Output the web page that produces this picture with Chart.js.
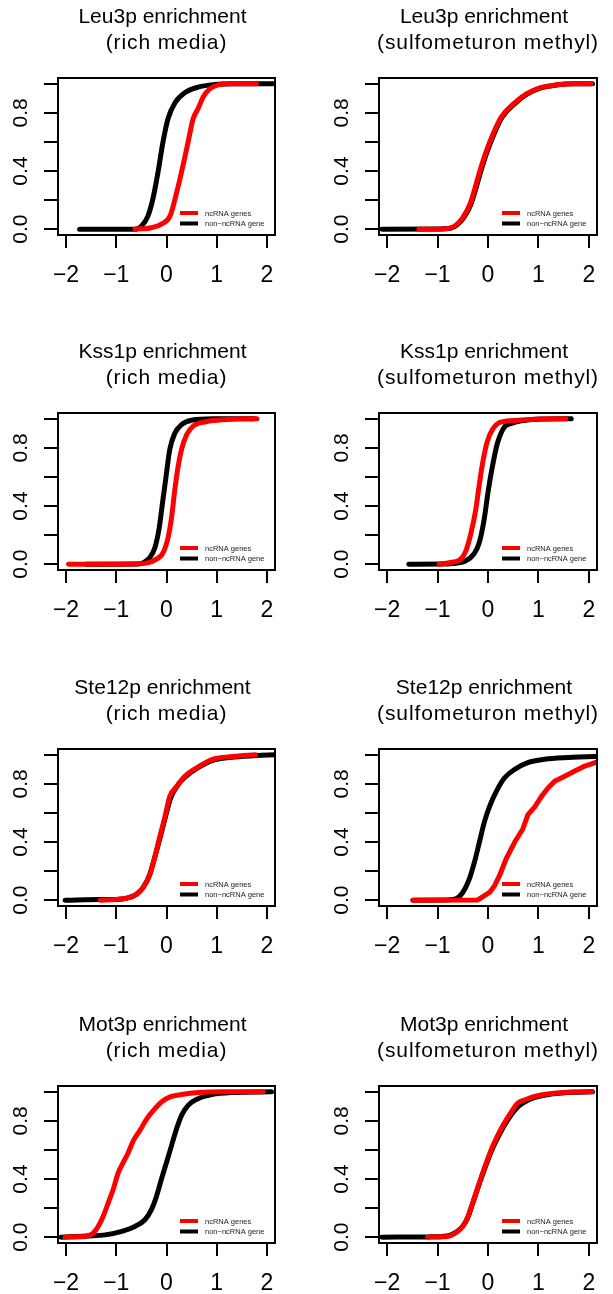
<!DOCTYPE html>
<html>
<head>
<meta charset="utf-8">
<script src="https://cdn.jsdelivr.net/npm/chart.js@4.4.1/dist/chart.umd.min.js"></script>
<style>
  html, body { margin: 0; padding: 0; background: #fff; }
  body { position: relative; width: 613px; height: 1294px; overflow: hidden; }
  canvas { position: absolute; }
</style>
</head>
<body>
<script>
// ECDF curves, [enrichment, cumulative fraction], ncRNA genes vs non-ncRNA genes
const leu3RichNc = [[-0.63, 0], [-0.3, 0.01], [-0.1, 0.035], [0.07, 0.09], [0.2, 0.25], [0.33, 0.44], [0.43, 0.6], [0.53, 0.76], [0.63, 0.83], [0.73, 0.91], [0.86, 0.965], [1.03, 0.993], [1.3, 1], [1.79, 1]];
const leu3RichNon = [[-1.73, 0], [-0.63, 0], [-0.5, 0.02], [-0.37, 0.09], [-0.27, 0.21], [-0.17, 0.39], [-0.07, 0.6], [0.03, 0.76], [0.17, 0.87], [0.37, 0.94], [0.63, 0.977], [0.96, 0.995], [1.3, 1], [2.12, 1]];

const leu3SulfoNc = [[-1.37, 0], [-0.9, 0.002], [-0.76, 0.007], [-0.63, 0.03], [-0.5, 0.08], [-0.36, 0.17], [-0.26, 0.28], [-0.17, 0.39], [-0.03, 0.54], [0.1, 0.655], [0.26, 0.77], [0.5, 0.86], [0.76, 0.93], [1.03, 0.972], [1.36, 0.993], [1.7, 1], [2.04, 1]];
const leu3SulfoNon = [[-2.1, 0], [-1.0, 0.002], [-0.74, 0.007], [-0.61, 0.03], [-0.48, 0.08], [-0.34, 0.17], [-0.24, 0.28], [-0.15, 0.39], [-0.01, 0.54], [0.12, 0.655], [0.28, 0.77], [0.52, 0.86], [0.78, 0.93], [1.05, 0.972], [1.38, 0.993], [1.72, 1], [2.07, 1]];

const kss1RichNc = [[-1.95, 0], [-0.6, 0.002], [-0.4, 0.007], [-0.2, 0.035], [-0.066, 0.08], [0.033, 0.185], [0.1, 0.32], [0.165, 0.51], [0.23, 0.67], [0.3, 0.79], [0.4, 0.89], [0.53, 0.95], [0.79, 0.98], [1.19, 0.995], [1.5, 1], [1.8, 1]];
const kss1RichNon = [[-1.6, 0], [-0.6, 0.002], [-0.46, 0.01], [-0.33, 0.046], [-0.23, 0.115], [-0.145, 0.25], [-0.08, 0.42], [-0.01, 0.6], [0.066, 0.79], [0.165, 0.9], [0.3, 0.96], [0.5, 0.99], [0.93, 1], [1.75, 1]];

const kss1SulfoNc = [[-0.97, 0], [-0.77, 0.01], [-0.54, 0.035], [-0.44, 0.09], [-0.34, 0.21], [-0.245, 0.37], [-0.18, 0.53], [-0.11, 0.69], [-0.013, 0.845], [0.086, 0.925], [0.25, 0.977], [0.61, 0.99], [1.01, 0.998], [1.54, 1]];
const kss1SulfoNon = [[-1.57, 0], [-0.9, 0.001], [-0.71, 0.005], [-0.44, 0.023], [-0.28, 0.07], [-0.18, 0.14], [-0.08, 0.3], [0.007, 0.51], [0.086, 0.67], [0.185, 0.83], [0.317, 0.94], [0.48, 0.97], [0.75, 0.99], [1.1, 0.998], [1.65, 1]];

const ste12RichNc = [[-1.32, 0], [-1.0, 0.005], [-0.79, 0.014], [-0.6, 0.04], [-0.46, 0.09], [-0.33, 0.18], [-0.23, 0.3], [-0.13, 0.44], [-0.03, 0.575], [0.066, 0.715], [0.2, 0.78], [0.36, 0.85], [0.6, 0.91], [0.93, 0.97], [1.32, 0.988], [1.77, 1]];
const ste12RichNon = [[-2.02, 0], [-1.3, 0.004], [-0.99, 0.005], [-0.79, 0.014], [-0.6, 0.04], [-0.46, 0.09], [-0.33, 0.18], [-0.23, 0.3], [-0.12, 0.44], [-0.02, 0.575], [0.08, 0.7], [0.22, 0.79], [0.38, 0.85], [0.62, 0.91], [0.95, 0.965], [1.35, 0.985], [1.8, 0.996], [2.15, 1]];

const ste12SulfoNc = [[-1.49, 0], [-0.2, 0.002], [0.03, 0.053], [0.13, 0.1], [0.23, 0.17], [0.36, 0.285], [0.53, 0.4], [0.69, 0.49], [0.79, 0.587], [0.93, 0.644], [1.06, 0.714], [1.19, 0.772], [1.32, 0.818], [1.52, 0.853], [1.72, 0.888], [1.92, 0.923], [2.12, 0.946], [2.4, 0.97]];
const ste12SulfoNon = [[-1.49, 0], [-0.9, 0.001], [-0.66, 0.007], [-0.5, 0.053], [-0.37, 0.146], [-0.27, 0.26], [-0.17, 0.4], [-0.07, 0.54], [0.03, 0.644], [0.165, 0.749], [0.33, 0.842], [0.53, 0.9], [0.79, 0.946], [1.12, 0.969], [1.59, 0.981], [2.12, 0.988], [2.4, 0.99]];

const mot3RichNc = [[-2.02, 0], [-1.56, 0.01], [-1.46, 0.028], [-1.36, 0.074], [-1.26, 0.144], [-1.16, 0.236], [-1.06, 0.33], [-0.96, 0.444], [-0.86, 0.514], [-0.76, 0.583], [-0.66, 0.664], [-0.53, 0.734], [-0.39, 0.815], [-0.23, 0.884], [-0.1, 0.93], [0.07, 0.965], [0.3, 0.981], [0.63, 0.995], [1.1, 1], [1.92, 1]];
const mot3RichNon = [[-2.1, 0], [-1.56, 0.008], [-1.22, 0.016], [-0.89, 0.04], [-0.63, 0.074], [-0.43, 0.12], [-0.3, 0.19], [-0.2, 0.28], [-0.1, 0.4], [0.0, 0.514], [0.1, 0.63], [0.2, 0.745], [0.3, 0.838], [0.43, 0.907], [0.63, 0.953], [0.9, 0.981], [1.3, 0.995], [2.09, 1]];

const mot3SulfoNc = [[-1.2, 0], [-0.9, 0.003], [-0.77, 0.007], [-0.64, 0.03], [-0.51, 0.07], [-0.41, 0.13], [-0.31, 0.23], [-0.18, 0.365], [-0.046, 0.5], [0.086, 0.62], [0.22, 0.72], [0.35, 0.8], [0.48, 0.87], [0.58, 0.92], [0.75, 0.947], [0.945, 0.97], [1.27, 0.988], [1.67, 0.998], [2.05, 1]];
const mot3SulfoNon = [[-2.1, 0], [-1.2, 0.002], [-0.9, 0.005], [-0.76, 0.012], [-0.63, 0.035], [-0.5, 0.075], [-0.4, 0.135], [-0.3, 0.235], [-0.17, 0.37], [-0.036, 0.5], [0.096, 0.615], [0.23, 0.71], [0.36, 0.79], [0.5, 0.86], [0.62, 0.905], [0.78, 0.94], [0.97, 0.965], [1.29, 0.986], [1.7, 0.997], [2.07, 1]];

const factors = ['Leu3p', 'Kss1p', 'Ste12p', 'Mot3p'];
const conditions = ['(rich media)', '(sulfometuron methyl)'];
const seriesLabels = ['ncRNA genes', 'non\u2212ncRNA gene'];
const xTicks = [-2, -1, 0, 1, 2];
const yTicks = [0, 0.2, 0.4, 0.6, 0.8, 1];
const yTickLabels = ['0.0', '', '0.4', '', '0.8', ''];

const ncCurves = [leu3RichNc, leu3SulfoNc, kss1RichNc, kss1SulfoNc, ste12RichNc, ste12SulfoNc, mot3RichNc, mot3SulfoNc];
const nonCurves = [leu3RichNon, leu3SulfoNon, kss1RichNon, kss1SulfoNon, ste12RichNon, ste12SulfoNon, mot3RichNon, mot3SulfoNon];

const FONT = '"Liberation Sans", Arial, Helvetica, sans-serif';
const RED = '#ff0000';
const BLACK = '#000000';
const ROW_TOP = [0, 335, 671, 1008];

// box, titles, axis labels and legend, drawn the way base R graphics lays them out
const rDecor = {
  id: 'rDecor',
  afterDatasetsDraw(chart, args, opts) {
    const { ctx, chartArea: a } = chart;
    const xs = chart.scales.x;
    const ys = chart.scales.y;
    ctx.save();

    ctx.strokeStyle = '#000';
    ctx.lineWidth = 2;
    ctx.strokeRect(a.left, a.top, a.right - a.left, a.bottom - a.top);

    ctx.fillStyle = '#000';
    const cx = (a.left + a.right) / 2;
    ctx.textAlign = 'center';
    ctx.textBaseline = 'alphabetic';
    ctx.font = '21px ' + FONT;
    ctx.fillText(opts.title[0] + ' enrichment', cx - 4, a.top - 55);
    ctx.letterSpacing = '0.9px';
    ctx.fillText(opts.title[1], cx, a.top - 29);
    ctx.letterSpacing = '0px';

    ctx.font = '23px ' + FONT;
    xTicks.forEach((v) => {
      const label = v < 0 ? '\u2212' + Math.abs(v) : String(v);
      ctx.fillText(label, xs.getPixelForValue(v), a.bottom + 47);
    });

    ctx.font = '21px ' + FONT;
    yTicks.forEach((v, i) => {
      if (!yTickLabels[i]) return;
      ctx.save();
      ctx.translate(a.left - 31, ys.getPixelForValue(v));
      ctx.rotate(-Math.PI / 2);
      ctx.fillText(yTickLabels[i], 0, 0);
      ctx.restore();
    });

    // legend, no frame
    const colors = [RED, BLACK];
    ctx.font = '7.5px ' + FONT;
    ctx.textAlign = 'left';
    ctx.textBaseline = 'middle';
    ctx.lineCap = 'butt';
    ctx.lineWidth = 4;
    [22, 11.5].forEach((dy, i) => {
      const y = a.bottom - dy;
      ctx.strokeStyle = colors[i];
      ctx.beginPath();
      ctx.moveTo(a.right - 95, y);
      ctx.lineTo(a.right - 77, y);
      ctx.stroke();
      ctx.fillStyle = '#222';
      ctx.fillText(seriesLabels[i], a.right - 70, y + 0.5);
    });
    ctx.restore();
  },
};

function curve(points, color) {
  return {
    data: points.map(([x, y]) => ({ x, y })),
    borderColor: color,
    borderWidth: 5,
    borderCapStyle: 'round',
    borderJoinStyle: 'round',
    cubicInterpolationMode: 'monotone',
    pointRadius: 0,
    fill: false,
    clip: 0,
  };
}

function tickAxis(min, max, values, len) {
  return {
    type: 'linear',
    min: min,
    max: max,
    afterBuildTicks: (scale) => {
      scale.ticks = values.map((v) => ({ value: v }));
    },
    ticks: { display: false },
    border: { display: false },
    grid: {
      drawOnChartArea: false,
      drawTicks: true,
      tickLength: len,
      color: '#000',
      tickColor: '#000',
      lineWidth: 2,
      tickWidth: 2,
    },
  };
}

ncCurves.forEach((nc, i) => {
  const col = i % 2;
  const row = Math.floor(i / 2);
  const canvas = document.createElement('canvas');
  const w = col ? 307 : 306;
  canvas.width = w;
  canvas.height = 336;
  canvas.style.left = (col ? 306 : 0) + 'px';
  canvas.style.top = ROW_TOP[row] + 'px';
  canvas.style.width = w + 'px';
  canvas.style.height = '336px';
  document.body.appendChild(canvas);

  const x = tickAxis(-2.16, 2.16, xTicks, 13);
  x.afterFit = (scale) => { scale.height = 101; };
  const y = tickAxis(-0.04, 1.04, yTicks, 14);
  y.afterFit = (scale) => { scale.width = col ? 73 : 58; };

  const ncSet = curve(nc, RED);
  if (i === 5) ncSet.cubicInterpolationMode = 'default';

  new Chart(canvas, {
    type: 'line',
    data: { datasets: [ncSet, curve(nonCurves[i], BLACK)] },
    options: {
      responsive: false,
      animation: false,
      events: [],
      layout: { padding: { top: 78, right: col ? 16 : 31, left: 0, bottom: 0 } },
      scales: { x: x, y: y },
      plugins: {
        legend: { display: false },
        tooltip: { enabled: false },
        rDecor: { title: [factors[row], conditions[col]] },
      },
    },
    plugins: [rDecor],
  });
});
</script>
</body>
</html>
